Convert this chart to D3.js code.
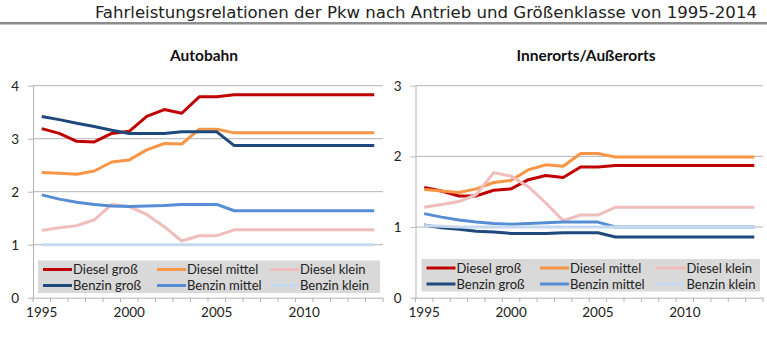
<!DOCTYPE html>
<html>
<head>
<meta charset="utf-8">
<script src="https://cdn.jsdelivr.net/npm/d3@7"></script>
<style>
  body { margin: 0; background: #fff; }
  svg { display: block; }
</style>
</head>
<body>
<svg id="chart" width="767" height="338"></svg>
<script>
// years on the category axis
const years = d3.range(1995, 2015);
const yearLabels = [1995, 2000, 2005, 2010];

const seriesNames = ["Diesel groß", "Diesel mittel", "Diesel klein", "Benzin groß", "Benzin mittel", "Benzin klein"];
const seriesColors = ["#c00000", "#f79646", "#f0bcbc", "#1f497d", "#558ed5", "#c6d9f1"];

// Autobahn, 1995..2014
const abDieselGross  = [3.19, 3.10, 2.95, 2.94, 3.10, 3.14, 3.42, 3.55, 3.48, 3.79, 3.79, 3.83, 3.83, 3.83, 3.83, 3.83, 3.83, 3.83, 3.83, 3.83];
const abDieselMittel = [2.36, 2.35, 2.33, 2.39, 2.56, 2.60, 2.79, 2.91, 2.90, 3.18, 3.18, 3.11, 3.11, 3.11, 3.11, 3.11, 3.11, 3.11, 3.11, 3.11];
const abDieselKlein  = [1.27, 1.32, 1.36, 1.47, 1.76, 1.72, 1.57, 1.34, 1.07, 1.17, 1.17, 1.28, 1.28, 1.28, 1.28, 1.28, 1.28, 1.28, 1.28, 1.28];
const abBenzinGross  = [3.42, 3.36, 3.29, 3.23, 3.16, 3.10, 3.10, 3.10, 3.13, 3.13, 3.13, 2.87, 2.87, 2.87, 2.87, 2.87, 2.87, 2.87, 2.87, 2.87];
const abBenzinMittel = [1.94, 1.86, 1.80, 1.76, 1.73, 1.72, 1.73, 1.74, 1.76, 1.76, 1.76, 1.64, 1.64, 1.64, 1.64, 1.64, 1.64, 1.64, 1.64, 1.64];
const abBenzinKlein  = [1.00, 1.00, 1.00, 1.00, 1.00, 1.00, 1.00, 1.00, 1.00, 1.00, 1.00, 1.00, 1.00, 1.00, 1.00, 1.00, 1.00, 1.00, 1.00, 1.00];

// Innerorts/Außerorts, 1995..2014
const ioDieselGross  = [1.56, 1.51, 1.44, 1.44, 1.52, 1.54, 1.67, 1.73, 1.70, 1.85, 1.85, 1.87, 1.87, 1.87, 1.87, 1.87, 1.87, 1.87, 1.87, 1.87];
const ioDieselMittel = [1.53, 1.51, 1.49, 1.54, 1.63, 1.66, 1.81, 1.88, 1.86, 2.04, 2.04, 1.99, 1.99, 1.99, 1.99, 1.99, 1.99, 1.99, 1.99, 1.99];
const ioDieselKlein  = [1.28, 1.32, 1.36, 1.46, 1.77, 1.72, 1.57, 1.34, 1.09, 1.17, 1.17, 1.28, 1.28, 1.28, 1.28, 1.28, 1.28, 1.28, 1.28, 1.28];
const ioBenzinGross  = [1.03, 0.99, 0.97, 0.94, 0.93, 0.91, 0.91, 0.91, 0.92, 0.92, 0.92, 0.86, 0.86, 0.86, 0.86, 0.86, 0.86, 0.86, 0.86, 0.86];
const ioBenzinMittel = [1.19, 1.14, 1.10, 1.07, 1.05, 1.04, 1.05, 1.06, 1.07, 1.07, 1.07, 1.00, 1.00, 1.00, 1.00, 1.00, 1.00, 1.00, 1.00, 1.00];
const ioBenzinKlein  = [1.02, 1.01, 1.00, 1.00, 1.00, 1.00, 1.00, 1.00, 1.00, 1.00, 1.00, 1.00, 1.00, 1.00, 1.00, 1.00, 1.00, 1.00, 1.00, 1.00];

const abTicks = [0, 1, 2, 3, 4];
const ioTicks = [0, 1, 2, 3];

const svg = d3.select("#chart");
const font = "Lato, 'Liberation Sans', sans-serif";

// page title with the grey rule under it
svg.append("text")
  .attr("x", 757).attr("y", 18)
  .attr("text-anchor", "end")
  .attr("font-family", "'Liberation Sans Narrow', 'DejaVu Sans Condensed', 'Liberation Sans', sans-serif")
  .attr("font-size", 15.5)
  .attr("fill", "#222")
  .attr("textLength", 662)
  .attr("lengthAdjust", "spacingAndGlyphs")
  .text("Fahrleistungsrelationen der Pkw nach Antrieb und Größenklasse von 1995-2014");
svg.append("rect")
  .attr("x", 0).attr("y", 22).attr("width", 767).attr("height", 2.5)
  .attr("fill", "#8c8c8c");

function drawPanel(opts) {
  const g = svg.append("g");
  const x = d3.scaleBand().domain(years).range([opts.x0, opts.x1]);
  const y = d3.scaleLinear().domain([0, opts.max]).range([297.7, 85.7]);

  // gridlines
  g.selectAll(".grid").data(opts.ticks.filter(t => t > 0)).join("line")
    .attr("x1", opts.x0).attr("x2", opts.x1)
    .attr("y1", d => y(d)).attr("y2", d => y(d))
    .attr("stroke", "#b4b4b4").attr("stroke-width", 1);

  // y axis
  const ya = g.append("g")
    .attr("transform", `translate(${opts.x0},0)`)
    .call(d3.axisLeft(y).tickValues(opts.ticks).tickSize(5).tickSizeOuter(0).tickPadding(9).tickFormat(d3.format("d")));
  ya.select(".domain").attr("stroke", "#b4b4b4");
  ya.selectAll(".tick line").attr("stroke", "#b4b4b4");
  ya.selectAll("text").attr("font-family", font).attr("font-size", 13.5).attr("fill", "#222");

  // x axis: labels at band centres, ticks between categories
  const xa = g.append("g")
    .attr("transform", "translate(0,297.7)")
    .call(d3.axisBottom(x).tickValues(yearLabels).tickSize(0).tickSizeOuter(0).tickPadding(10));
  xa.select(".domain").attr("stroke", "#b4b4b4");
  xa.selectAll("text").attr("font-family", font).attr("font-size", 13.5).attr("fill", "#222");
  g.selectAll(".xtick").data(years.concat([null])).join("line")
    .attr("x1", d => d === null ? opts.x1 : x(d))
    .attr("x2", d => d === null ? opts.x1 : x(d))
    .attr("y1", 297.7).attr("y2", 302)
    .attr("stroke", "#b4b4b4");

  // title
  g.append("text")
    .attr("x", opts.titleX).attr("y", 61)
    .attr("text-anchor", "middle")
    .attr("font-family", font).attr("font-weight", "bold").attr("font-size", 15.5)
    .attr("fill", "#111")
    .text(opts.title);

  // lines
  const line = d3.line()
    .x((d, i) => x(years[i]) + x.bandwidth() / 2)
    .y(d => y(d));
  g.selectAll(".series").data(opts.series).join("path")
    .attr("d", d => line(d))
    .attr("fill", "none")
    .attr("stroke", (d, i) => seriesColors[i])
    .attr("stroke-width", 3)
    .attr("stroke-linejoin", "round");

  // legend
  const lg = g.append("g").attr("transform", `translate(${opts.legX},${opts.legY})`);
  lg.append("rect").attr("width", opts.legW).attr("height", 32.5).attr("fill", "#d9d9d9");
  const cols = opts.legCols;
  seriesNames.forEach((name, i) => {
    const cx = cols[i % 3];
    const cy = i < 3 ? 9 : 25;
    lg.append("line")
      .attr("x1", cx).attr("x2", cx + 29)
      .attr("y1", cy).attr("y2", cy)
      .attr("stroke", seriesColors[i]).attr("stroke-width", 3);
    lg.append("text")
      .attr("x", cx + 30).attr("y", cy + 4.5)
      .attr("font-family", font).attr("font-size", 13)
      .attr("fill", "#222")
      .text(name);
  });
}

drawPanel({
  x0: 33, x1: 383, max: 4, ticks: abTicks, title: "Autobahn", titleX: 204,
  series: [abDieselGross, abDieselMittel, abDieselKlein, abBenzinGross, abBenzinMittel, abBenzinKlein],
  legX: 38, legY: 260.5, legW: 342, legCols: [5, 119, 232]
});
drawPanel({
  x0: 415.5, x1: 763, max: 3, ticks: ioTicks, title: "Innerorts/Außerorts", titleX: 586,
  series: [ioDieselGross, ioDieselMittel, ioDieselKlein, ioBenzinGross, ioBenzinMittel, ioBenzinKlein],
  legX: 421.5, legY: 259, legW: 338.5, legCols: [5, 118.5, 235]
});
</script>
</body>
</html>
